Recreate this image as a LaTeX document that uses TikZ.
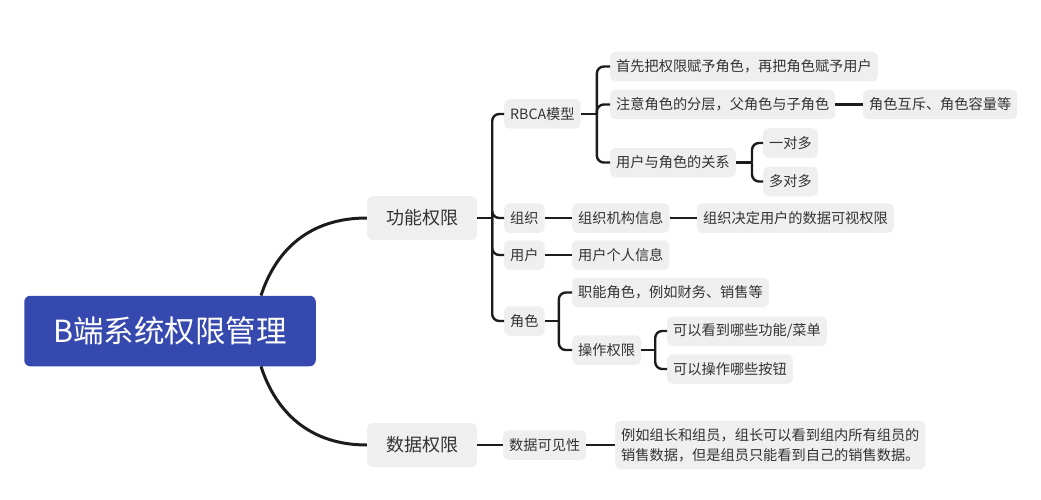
\documentclass[tikz,border=0pt]{standalone}
\usepackage{fontspec}
\newfontfamily\cjk{Noto Sans CJK SC}
\definecolor{boxgray}{HTML}{EFEFEF}
\definecolor{txtc}{HTML}{333333}
\definecolor{linec}{HTML}{1C1C1C}
\definecolor{rootblue}{HTML}{3649AE}
\tikzset{
  box/.style={fill=boxgray, rounded corners=5pt, inner xsep=6pt, inner ysep=0pt,
    minimum height=29.5pt, text=txtc, anchor=west,
    font=\cjk\fontsize{14.2}{20}\selectfont},
  lvlone/.style={fill=boxgray, rounded corners=6pt, minimum width=110pt,
    minimum height=44pt, text=txtc, font=\cjk\fontsize{18}{22}\selectfont},
  rootbox/.style={fill=rootblue, rounded corners=6pt, minimum width=291.5pt,
    minimum height=70.5pt, text=white, font=\cjk\fontsize{30.5}{36}\selectfont},
  link/.style={draw=linec, line width=2.4pt},
  br/.style={link, rounded corners=7pt},
  curve/.style={draw=linec, line width=3pt}
}
\begin{document}
\begin{tikzpicture}[x=1pt,y=-1pt]
\useasboundingbox (0,0) rectangle (1041,500);
% root and level one
\node[rootbox] (root) at (170,331) {B端系统权限管理};
\node[lvlone] (gn) at (422,218) {功能权限};
\node[lvlone] (sj) at (422,445) {数据权限};
% level two
\node[box] (rbca) at (504,114) {RBCA模型};
\node[box] (zz) at (504,218) {组织};
\node[box] (yh) at (504,255) {用户};
\node[box] (js) at (504,321) {角色};
\node[box] (sj1) at (503,445) {数据可见性};
% RBCA children
\node[box] (a1) at (610,66.5) {首先把权限赋予角色，再把角色赋予用户};
\node[box] (a2) at (610,104.5) {注意角色的分层，父角色与子角色};
\node[box] (a2b) at (863,104.5) {角色互斥、角色容量等};
\node[box] (a3) at (610,162.5) {用户与角色的关系};
\node[box] (a31) at (763,143) {一对多};
\node[box] (a32) at (763,181.5) {多对多};
% other children
\node[box] (zz1) at (572,218) {组织机构信息};
\node[box] (zz2) at (697,218) {组织决定用户的数据可视权限};
\node[box] (yh1) at (572,255) {用户个人信息};
\node[box] (js1) at (572,292.5) {职能角色，例如财务、销售等};
\node[box] (js2) at (572,350) {操作权限};
\node[box] (c1) at (667,331) {可以看到哪些功能/菜单};
\node[box] (c2) at (667,369) {可以操作哪些按钮};
\node[box, align=left, minimum height=48.5pt] (sj2) at (615,445)
  {例如组长和组员，组长可以看到组内所有组员的\\销售数据，但是组员只能看到自己的销售数据。};
% root curves
\draw[curve] ([xshift=91pt]root.north) .. controls +(15,-46) and +(-57,0) .. (gn.west);
\draw[curve] ([xshift=91pt]root.south) .. controls +(15,46) and +(-57,0) .. (sj.west);
% junction coordinates
\coordinate (tg) at ([xshift=15pt]gn.east);
\coordinate (tr) at ([xshift=16pt]rbca.east);
\coordinate (tu) at ([xshift=16pt]a3.east);
\coordinate (tj) at ([xshift=14pt]js.east);
\coordinate (to) at ([xshift=14pt]js2.east);
% 功能权限 branch
\draw[link] (gn.east) -- (tg);
\draw[br] (tg) |- (rbca.west);
\draw[br] (tg) |- (zz.west);
\draw[br] (tg) |- (yh.west);
\draw[br] (tg) |- (js.west);
% RBCA branch
\draw[link] (rbca.east) -- (tr);
\draw[br] (tr) |- (a1.west);
\draw[br] (tr) |- (a2.west);
\draw[br] (tr) |- (a3.west);
\draw[link] (a2.east) -- (a2b.west);
% 用户与角色的关系 branch
\draw[link] (a3.east) -- (tu);
\draw[br] (tu) |- (a31.west);
\draw[br] (tu) |- (a32.west);
% 组织, 用户
\draw[link] (zz.east) -- (zz1.west);
\draw[link] (zz1.east) -- (zz2.west);
\draw[link] (yh.east) -- (yh1.west);
% 角色 branch
\draw[link] (js.east) -- (tj);
\draw[br] (tj) |- (js1.west);
\draw[br] (tj) |- (js2.west);
\draw[link] (js2.east) -- (to);
\draw[br] (to) |- (c1.west);
\draw[br] (to) |- (c2.west);
% 数据权限 branch
\draw[link] (sj.east) -- (sj1.west);
\draw[link] (sj1.east) -- (sj2.west);
\end{tikzpicture}
\end{document}
